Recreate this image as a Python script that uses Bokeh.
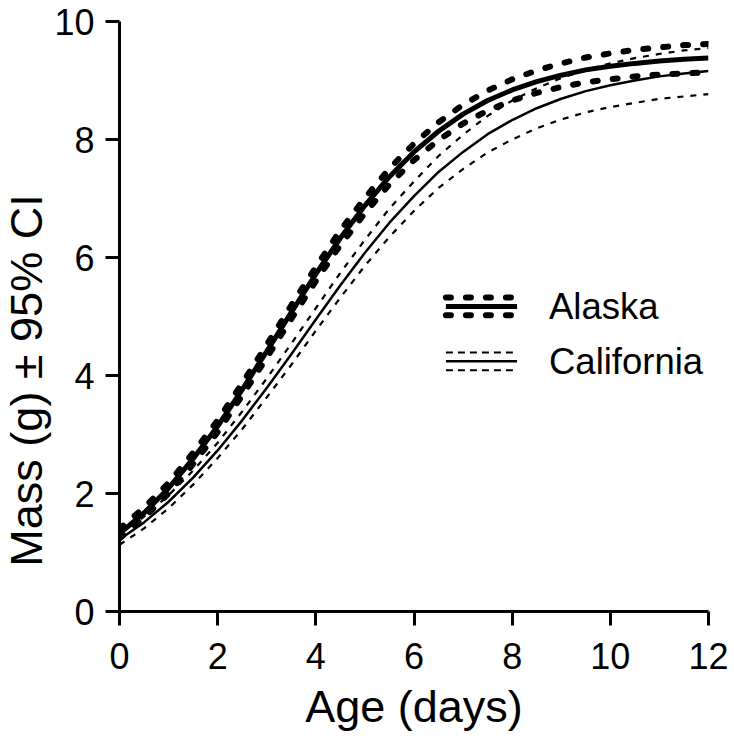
import math
from bokeh.plotting import figure
from bokeh.models import Range1d, FixedTicker, Label
from bokeh.embed import file_html
from bokeh.resources import INLINE

# ---- data ----
days = [0, 0.5, 1, 1.5, 2, 2.5, 3, 3.5, 4, 4.5, 5, 5.5, 6, 6.5, 7, 7.5,
        8, 8.5, 9, 9.5, 10, 10.5, 11, 11.5, 12]

alaska_mean = [1.32, 1.67, 2.09, 2.59, 3.14, 3.76, 4.41, 5.07, 5.72, 6.33, 6.88, 7.37, 7.79,
               8.14, 8.43, 8.66, 8.84, 8.98, 9.09, 9.18, 9.24, 9.29, 9.33, 9.36, 9.38]
alaska_upper = [1.40, 1.76, 2.18, 2.69, 3.24, 3.87, 4.52, 5.19, 5.84, 6.46, 7.01, 7.51, 7.93,
                8.29, 8.59, 8.83, 9.02, 9.17, 9.29, 9.39, 9.46, 9.52, 9.56, 9.60, 9.62]
alaska_lower = [1.24, 1.59, 2.00, 2.50, 3.04, 3.66, 4.30, 4.96, 5.60, 6.21, 6.75, 7.24, 7.65,
                7.99, 8.27, 8.49, 8.66, 8.79, 8.89, 8.97, 9.02, 9.07, 9.10, 9.12, 9.14]

california_mean = [1.22, 1.51, 1.86, 2.27, 2.73, 3.24, 3.79, 4.36, 4.95, 5.53, 6.08, 6.59, 7.04,
                   7.45, 7.79, 8.09, 8.33, 8.53, 8.69, 8.82, 8.92, 9.00, 9.07, 9.12, 9.16]
california_upper = [1.31, 1.61, 1.97, 2.39, 2.86, 3.39, 3.95, 4.54, 5.14, 5.74, 6.30, 6.83, 7.29,
                    7.72, 8.08, 8.40, 8.66, 8.87, 9.04, 9.18, 9.29, 9.38, 9.45, 9.51, 9.55]
california_lower = [1.13, 1.41, 1.75, 2.15, 2.60, 3.09, 3.63, 4.18, 4.76, 5.32, 5.86, 6.35, 6.79,
                    7.18, 7.50, 7.78, 8.00, 8.19, 8.34, 8.46, 8.55, 8.62, 8.69, 8.73, 8.77]

x_ticks = [0, 2, 4, 6, 8, 10, 12]
y_ticks = [0, 2, 4, 6, 8, 10]
series_names = ["Alaska", "California"]
x_title = "Age (days)"
y_title = "Mass (g) \u00b1 95% CI"

FONT = "Liberation Sans"

p = figure(width=734, height=740, output_backend="svg", toolbar_location=None,
           x_range=Range1d(0, 12), y_range=Range1d(0, 10),
           min_border_left=118, min_border_right=26, min_border_top=21, min_border_bottom=129)
p.outline_line_color = None
p.grid.visible = False
p.background_fill_color = "white"
p.border_fill_color = "white"

for ax in (p.xaxis[0], p.yaxis[0]):
    ax.axis_line_width = 3
    ax.axis_line_color = "black"
    ax.major_tick_line_width = 3
    ax.major_tick_line_color = "black"
    ax.major_tick_out = 14
    ax.major_tick_in = 0
    ax.minor_tick_line_color = None
    ax.major_label_text_font = FONT
    ax.major_label_text_font_size = "36px"
    ax.major_label_text_color = "black"

p.xaxis[0].ticker = FixedTicker(ticks=x_ticks)
p.yaxis[0].ticker = FixedTicker(ticks=y_ticks)
p.xaxis[0].major_label_standoff = 17
p.yaxis[0].major_label_standoff = 11
p.xaxis[0].axis_label = x_title
p.xaxis[0].axis_label_text_font = FONT
p.xaxis[0].axis_label_text_font_size = "45px"
p.xaxis[0].axis_label_text_font_style = "normal"
p.xaxis[0].axis_label_text_color = "black"
p.xaxis[0].axis_label_standoff = 9

# y title placed in canvas pixels (it sits lower than the frame centre in the reference);
# given a side panel so that it is not clipped to the frame
ylab = Label(x=26, y=380, x_units="canvas", y_units="canvas", text=y_title,
             angle=math.pi / 2, text_align="center", text_baseline="middle",
             text_font=FONT, text_font_size="45px", text_color="black")
p.add_layout(ylab, "left")

# ---- curves ----
THICK_DASH = "5 15"
THIN_DASH = "6 7"
p.line(days, california_upper, line_color="black", line_width=2.2, line_dash=THIN_DASH)
p.line(days, california_lower, line_color="black", line_width=2.2, line_dash=THIN_DASH)
p.line(days, california_mean, line_color="black", line_width=2.5)
p.line(days, alaska_upper, line_color="black", line_width=6, line_dash=THICK_DASH, line_cap="round")
p.line(days, alaska_lower, line_color="black", line_width=6, line_dash=THICK_DASH, line_cap="round")
p.line(days, alaska_mean, line_color="black", line_width=5)

# ---- hand-built legend (three stacked strokes per entry) ----
LX0, LX1, LTX = 6.65, 8.1, 8.75
A_Y, C_Y, ROW = 5.17, 4.24, 0.15
p.line([LX0, LX1], [A_Y + ROW, A_Y + ROW], line_color="black", line_width=6,
       line_dash=THICK_DASH, line_cap="round")
p.line([LX0, LX1], [A_Y, A_Y], line_color="black", line_width=5)
p.line([LX0, LX1], [A_Y - ROW, A_Y - ROW], line_color="black", line_width=6,
       line_dash=THICK_DASH, line_cap="round")
p.line([LX0, LX1], [C_Y + ROW, C_Y + ROW], line_color="black", line_width=2, line_dash="7 5")
p.line([LX0, LX1], [C_Y, C_Y], line_color="black", line_width=2.5)
p.line([LX0, LX1], [C_Y - ROW, C_Y - ROW], line_color="black", line_width=2, line_dash="7 5")
for name, yy in zip(series_names, [A_Y, C_Y]):
    p.add_layout(Label(x=LTX, y=yy, text=name, text_align="left", text_baseline="middle",
                       text_font=FONT, text_font_size="36.5px", text_color="black"))

open("out.html", "w").write(file_html(p, INLINE))
